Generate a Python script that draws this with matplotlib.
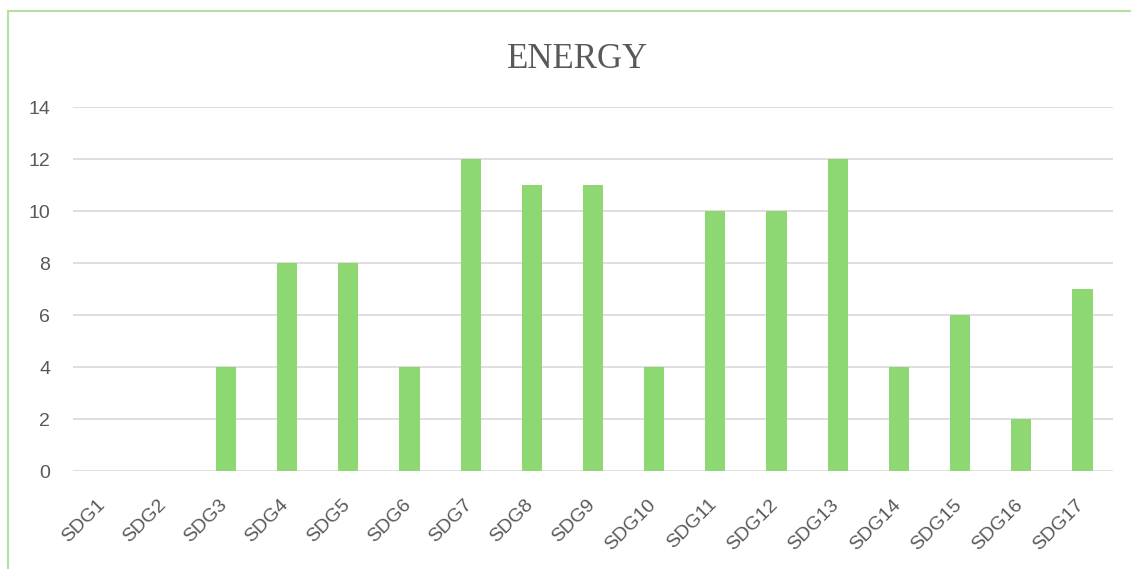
import matplotlib.pyplot as plt
from matplotlib.patches import Rectangle
from matplotlib.transforms import ScaledTranslation

categories = ["SDG%d" % i for i in range(1, 18)]
counts = [0, 0, 4, 8, 8, 4, 12, 11, 11, 4, 10, 10, 12, 4, 6, 2, 7]
y_ticks = [0, 2, 4, 6, 8, 10, 12, 14]

W, H = 1131, 569
fig = plt.figure(figsize=(W / 100, H / 100), dpi=100)

# plot area in pixels: left 73, right 1113, y=0 at 471, y=14 at 107
ax = fig.add_axes([73 / W, 1 - 471 / H, (1113 - 73) / W, (471 - 107) / H])

x = list(range(len(categories)))
ax.bar(x, counts, width=0.33, color="#8ed873", zorder=3)

ax.set_xlim(-0.5, len(categories) - 0.5)
ax.set_ylim(0, 14)
ax.set_yticks(y_ticks)
ax.set_yticklabels([str(v) for v in y_ticks])
ax.set_xticks(x)
ax.set_xticklabels(categories, rotation=45, ha="right", va="top",
                   rotation_mode="anchor")
ax.tick_params(axis="both", length=0, labelsize=14, labelcolor="#595959",
               labelfontfamily="Liberation Sans")
ax.tick_params(axis="y", pad=16.5)
ax.tick_params(axis="x", pad=18)

# nudge rotated labels left so they end under the bar
shift = ScaledTranslation(-7 / 100, 0, fig.dpi_scale_trans)
for lbl in ax.get_xticklabels():
    lbl.set_transform(lbl.get_transform() + shift)

ax.grid(axis="y", color="#d9d9d9", linewidth=1.2, zorder=0)
for s in ax.spines.values():
    s.set_visible(False)

fig.text(577 / W, 1 - 59 / H, "ENERGY", ha="center", va="center",
         fontsize=25, color="#595959", family="Liberation Serif")

# chart frame, left and top edges visible
fig.patches.append(Rectangle((8 / W, -0.1), 1.2, 1 - 11 / H + 0.1,
                             transform=fig.transFigure, fill=False,
                             edgecolor="#b3e0a0", linewidth=1.5))

fig.savefig("out.png", dpi=100)
